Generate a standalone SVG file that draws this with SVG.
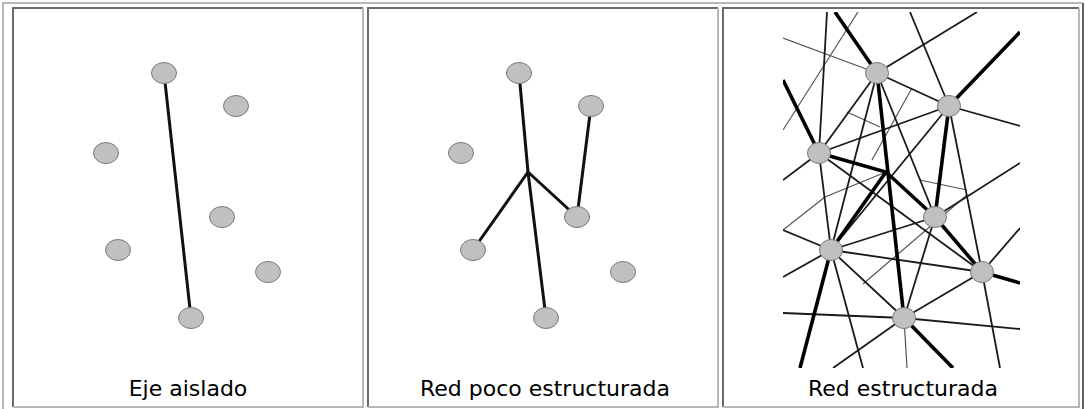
<svg xmlns="http://www.w3.org/2000/svg" width="1085" height="409" viewBox="0 0 1085 409">
<style>
.bg{fill:#ffffff}
.tl{fill:none;stroke:#6a6a6a;stroke-width:2}
.br{fill:none;stroke:#b8b8b8;stroke-width:2}
.otl{fill:none;stroke:#b8b8b8;stroke-width:2}
.obr{fill:none;stroke:#606060;stroke-width:2}
.n{fill:#c0c0c0;stroke:#7a7a7a;stroke-width:1}
.e{stroke:#111;stroke-width:3;stroke-linecap:round;fill:none}
.t{stroke:#000;stroke-width:3.6;fill:none}
.m{stroke:#1a1a1a;stroke-width:1.8;fill:none}
.g{stroke:#555;stroke-width:1.2;fill:none}
.lbl{font-family:"DejaVu Sans","Liberation Sans",sans-serif;font-size:22px;fill:#000;text-anchor:middle}
</style>
<defs>
<clipPath id="clip3"><rect x="783" y="12" width="237" height="356"/></clipPath>
</defs>
<rect class="bg" x="0" y="0" width="1085" height="409"/>
<g id="frame">
<path class="otl" d="M3,409 V3 H1083"/>
<path class="obr" d="M1083,3 V409"/>
<path class="tl" d="M13,407 V8 H363"/>
<path class="br" d="M363,8 V407 H13"/>
<path class="tl" d="M368,407 V8 H718"/>
<path class="br" d="M718,8 V407 H368"/>
<path class="tl" d="M723,407 V8 H1079"/>
<path class="br" d="M1079,8 V407 H723"/>
</g>
<g id="connectors">
<g id="edges-panel1">
<line class="e" x1="164" y1="73" x2="191" y2="318"/>
</g>
<g id="edges-panel2">
<polyline class="e" points="519,73 528,172 546,318"/>
<line class="e" x1="528" y1="172" x2="473" y2="250"/>
<line class="e" x1="528" y1="172" x2="577" y2="217"/>
<line class="e" x1="577" y1="217" x2="591" y2="106"/>
</g>
<g id="edges-panel3" clip-path="url(#clip3)">
<line class="g" x1="783" y1="38" x2="877" y2="73"/>
<line class="g" x1="858" y1="12" x2="783" y2="130"/>
<line class="g" x1="847" y1="112" x2="880" y2="127"/>
<line class="g" x1="872" y1="160" x2="912" y2="88"/>
<line class="g" x1="783" y1="230" x2="825" y2="197"/>
<line class="g" x1="825" y1="197" x2="886" y2="172"/>
<line class="g" x1="863" y1="284" x2="967" y2="195"/>
<line class="g" x1="920" y1="180" x2="967" y2="190"/>
<line class="g" x1="904" y1="318" x2="907" y2="368"/>
<line class="m" x1="877" y1="73" x2="977" y2="12"/>
<line class="m" x1="877" y1="73" x2="949" y2="106"/>
<line class="m" x1="910" y1="12" x2="949" y2="106"/>
<line class="m" x1="827" y1="12" x2="819" y2="153"/>
<line class="m" x1="877" y1="73" x2="819" y2="153"/>
<line class="m" x1="877" y1="73" x2="831" y2="250"/>
<line class="m" x1="877" y1="73" x2="935" y2="217"/>
<line class="m" x1="949" y1="106" x2="1020" y2="126"/>
<line class="m" x1="949" y1="106" x2="819" y2="153"/>
<line class="m" x1="949" y1="106" x2="982" y2="272"/>
<line class="m" x1="949" y1="106" x2="831" y2="250"/>
<line class="m" x1="819" y1="153" x2="831" y2="250"/>
<line class="m" x1="819" y1="153" x2="982" y2="272"/>
<line class="m" x1="819" y1="153" x2="783" y2="180"/>
<line class="m" x1="935" y1="217" x2="1020" y2="163"/>
<line class="m" x1="935" y1="217" x2="831" y2="250"/>
<line class="m" x1="935" y1="217" x2="904" y2="318"/>
<line class="m" x1="831" y1="250" x2="982" y2="272"/>
<line class="m" x1="831" y1="250" x2="904" y2="318"/>
<line class="m" x1="831" y1="250" x2="783" y2="277"/>
<line class="m" x1="831" y1="250" x2="783" y2="230"/>
<line class="m" x1="831" y1="250" x2="863" y2="368"/>
<line class="m" x1="904" y1="318" x2="833" y2="368"/>
<line class="m" x1="982" y1="272" x2="1020" y2="228"/>
<line class="m" x1="982" y1="272" x2="1000" y2="368"/>
<line class="m" x1="904" y1="318" x2="1020" y2="329"/>
<line class="m" x1="783" y1="313" x2="904" y2="318"/>
<line class="m" x1="904" y1="318" x2="982" y2="272"/>
<line class="t" x1="835" y1="12" x2="877" y2="73"/>
<line class="t" x1="783" y1="80" x2="819" y2="153"/>
<line class="t" x1="949" y1="106" x2="1020" y2="32"/>
<polyline class="t" points="819,153 886,172 935,217"/>
<line class="t" x1="877" y1="73" x2="904" y2="318"/>
<line class="t" x1="831" y1="250" x2="886" y2="172"/>
<line class="t" x1="949" y1="106" x2="935" y2="217"/>
<line class="t" x1="935" y1="217" x2="982" y2="272"/>
<line class="t" x1="982" y1="272" x2="1020" y2="283"/>
<line class="t" x1="831" y1="250" x2="800" y2="368"/>
<line class="t" x1="904" y1="318" x2="953" y2="368"/>
</g>
</g>
<g id="panel1">
<g id="p1-a"><ellipse class="n" cx="164" cy="73" rx="12.5" ry="10.5"/></g>
<g id="p1-b"><ellipse class="n" cx="236" cy="106" rx="12.5" ry="10.5"/></g>
<g id="p1-c"><ellipse class="n" cx="106" cy="153" rx="12.5" ry="10.5"/></g>
<g id="p1-d"><ellipse class="n" cx="222" cy="217" rx="12.5" ry="10.5"/></g>
<g id="p1-e"><ellipse class="n" cx="118" cy="250" rx="12.5" ry="10.5"/></g>
<g id="p1-f"><ellipse class="n" cx="268" cy="272" rx="12.5" ry="10.5"/></g>
<g id="p1-g"><ellipse class="n" cx="191" cy="318" rx="12.5" ry="10.5"/></g>
<text class="lbl" x="188" y="396">Eje aislado</text>
</g>
<g id="panel2">
<g id="p2-a"><ellipse class="n" cx="519" cy="73" rx="12.5" ry="10.5"/></g>
<g id="p2-b"><ellipse class="n" cx="591" cy="106" rx="12.5" ry="10.5"/></g>
<g id="p2-c"><ellipse class="n" cx="461" cy="153" rx="12.5" ry="10.5"/></g>
<g id="p2-d"><ellipse class="n" cx="577" cy="217" rx="12.5" ry="10.5"/></g>
<g id="p2-e"><ellipse class="n" cx="473" cy="250" rx="12.5" ry="10.5"/></g>
<g id="p2-f"><ellipse class="n" cx="623" cy="272" rx="12.5" ry="10.5"/></g>
<g id="p2-g"><ellipse class="n" cx="546" cy="318" rx="12.5" ry="10.5"/></g>
<text class="lbl" x="545" y="396">Red poco estructurada</text>
</g>
<g id="panel3">
<g id="p3-a"><ellipse class="n" cx="877" cy="73" rx="11.5" ry="10.5"/></g>
<g id="p3-b"><ellipse class="n" cx="949" cy="106" rx="11.5" ry="10.5"/></g>
<g id="p3-c"><ellipse class="n" cx="819" cy="153" rx="11.5" ry="10.5"/></g>
<g id="p3-d"><ellipse class="n" cx="935" cy="217" rx="11.5" ry="10.5"/></g>
<g id="p3-e"><ellipse class="n" cx="831" cy="250" rx="11.5" ry="10.5"/></g>
<g id="p3-f"><ellipse class="n" cx="982" cy="272" rx="11.5" ry="10.5"/></g>
<g id="p3-g"><ellipse class="n" cx="904" cy="318" rx="11.5" ry="10.5"/></g>
<text class="lbl" x="903" y="396">Red estructurada</text>
</g>
</svg>
